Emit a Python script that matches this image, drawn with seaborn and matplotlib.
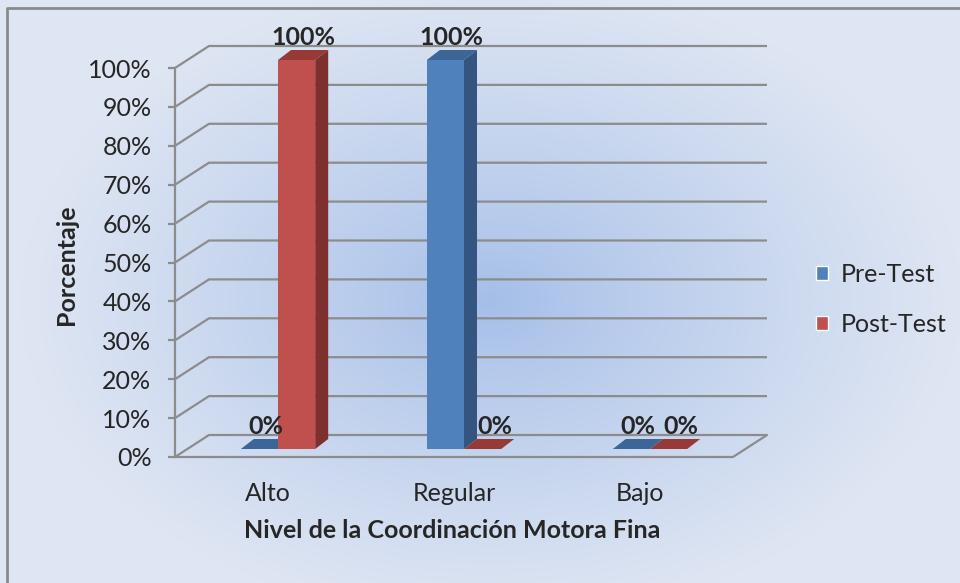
import matplotlib
matplotlib.use("Agg")
import matplotlib.pyplot as plt
import numpy as np
import pandas as pd
import seaborn as sns
from matplotlib.patches import Polygon
from matplotlib.lines import Line2D

# data
niveles = ["Alto", "Regular", "Bajo"]
grupos = ["Pre-Test", "Post-Test"]
pre_test = [0, 100, 0]
post_test = [100, 0, 0]
y_ticks = list(range(0, 101, 10))

front_colors = {"Pre-Test": "#4F81BD", "Post-Test": "#C0504D"}
side_colors = {"Pre-Test": "#34557F", "Post-Test": "#7D302E"}
top_colors = {"Pre-Test": "#3D6698", "Post-Test": "#963A38"}
grid_color = "#8C8C8C"

df = pd.DataFrame({
    "nivel": niveles * 2,
    "pct": pre_test + post_test,
    "grupo": [grupos[0]] * len(niveles) + [grupos[1]] * len(niveles),
})

sns.set_style("white")
plt.rcParams["font.family"] = ["Lato", "DejaVu Sans"]

W, H = 960, 583
fs = 18
fig = plt.figure(figsize=(W / 100, H / 100), dpi=100)

# background gradient
bg = fig.add_axes([0, 0, 1, 1], zorder=0)
yy, xx = np.mgrid[0:H, 0:W]
r = np.sqrt(((xx - 490) / 470) ** 2 + ((yy - 300) / 320) ** 2)
t = np.clip(r, 0, 1) ** 0.85
center = np.array([0xA4, 0xBE, 0xE8]) / 255
edge = np.array([0xDF, 0xE6, 0xF3]) / 255
img = center[None, None, :] * (1 - t[..., None]) + edge[None, None, :] * t[..., None]
bg.imshow(img, extent=[0, W, H, 0], aspect="auto")
bg.set_xlim(0, W)
bg.set_ylim(H, 0)
bg.set_axis_off()
bg.add_line(Line2D([7, 7, W], [H, 8, 8], color="#8A8A8A", lw=2))

# front plane: axis, ticks, walls
ax_front = fig.add_axes([175 / W, (H - 457) / H, 558 / W, 389 / H], zorder=1)
ax_front.patch.set_alpha(0)
ax_front.set_xlim(-0.5, 2.5)
ax_front.set_ylim(0, 100)
for s in ["top", "right", "bottom"]:
    ax_front.spines[s].set_visible(False)
ax_front.spines["left"].set_color(grid_color)
ax_front.spines["left"].set_linewidth(1.6)
ax_front.set_yticks(y_ticks)
ax_front.set_yticklabels([f"{v}%" for v in y_ticks])
ax_front.set_xticks(range(len(niveles)))
ax_front.set_xticklabels(niveles)
ax_front.tick_params(axis="y", length=5, width=1.6, color=grid_color,
                     labelsize=fs, pad=12, left=True)
ax_front.tick_params(axis="x", length=0, labelsize=fs, pad=18)

ax_front.set_xlabel("Nivel de la Coordinación Motora Fina",
                    fontsize=fs, fontweight="bold", va="center")
ax_front.xaxis.set_label_coords((452 - 175) / 558, (457 - 530) / 389)
ax_front.set_ylabel("Porcentaje", fontsize=fs, fontweight="bold", va="center")
ax_front.yaxis.set_label_coords((66 - 175) / 558, (457 - 265) / 389)

bx = 34 * 3 / 558
by = 22 * 100 / 389
for v in y_ticks:
    ax_front.plot([-0.5, -0.5 + bx, 2.5 + bx], [v, v + by, v + by],
                  color=grid_color, lw=1.6, clip_on=False, solid_capstyle="butt")
ax_front.plot([-0.5, 2.5, 2.5 + bx], [0, 0, by],
              color=grid_color, lw=1.6, clip_on=False)

# bars
ax = fig.add_axes([185 / W, (H - 449) / H, 558 / W, 389 / H], zorder=2)
ax.patch.set_alpha(0)
sns.barplot(
    data=df,
    x="nivel",
    y="pct",
    hue="grupo",
    order=niveles,
    hue_order=grupos,
    palette=front_colors,
    saturation=1,
    width=0.4,
    gap=0,
    ax=ax
)
ax.set_xlim(-0.5, 2.5)
ax.set_ylim(0, 100)

dx = 13 * 3 / 558
dy = 10 * 100 / 389
for i, (container, grupo) in enumerate(zip(ax.containers, grupos)):
    for rect in container:
        x0 = rect.get_x()
        w = rect.get_width()
        h = rect.get_height()
        rect.set_zorder(3 + 3 * i)
        rect.set_edgecolor("none")
        ax.add_patch(Polygon(
            [(x0, h), (x0 + w, h), (x0 + w + dx, h + dy), (x0 + dx, h + dy)],
            closed=True, facecolor=top_colors[grupo], edgecolor="none",
            zorder=4 + 3 * i, clip_on=False))
        if h > 0:
            ax.add_patch(Polygon(
                [(x0 + w, 0), (x0 + w, h), (x0 + w + dx, h + dy), (x0 + w + dx, dy)],
                closed=True, facecolor=side_colors[grupo], edgecolor="none",
                zorder=4 + 3 * i, clip_on=False))
        shift = 4 if (h == 0 and i == 1) else 0
        ax.annotate(
            f"{h:.0f}%",
            (x0 + w / 2 + dx / 2, h + dy),
            xytext=(shift, 1),
            textcoords="offset points",
            ha="center",
            va="bottom",
            fontsize=fs,
            fontweight="bold",
            zorder=20,
            annotation_clip=False
        )

sns.move_legend(
    ax,
    "upper left",
    bbox_to_anchor=(793 / W, 1 - 240 / H),
    bbox_transform=fig.transFigure,
    frameon=False,
    title=None,
    fontsize=fs,
    handlelength=0.5,
    handleheight=0.5,
    handletextpad=0.5,
    labelspacing=1.1
)
ax.set_axis_off()

fig.savefig("out.png", dpi=100)
